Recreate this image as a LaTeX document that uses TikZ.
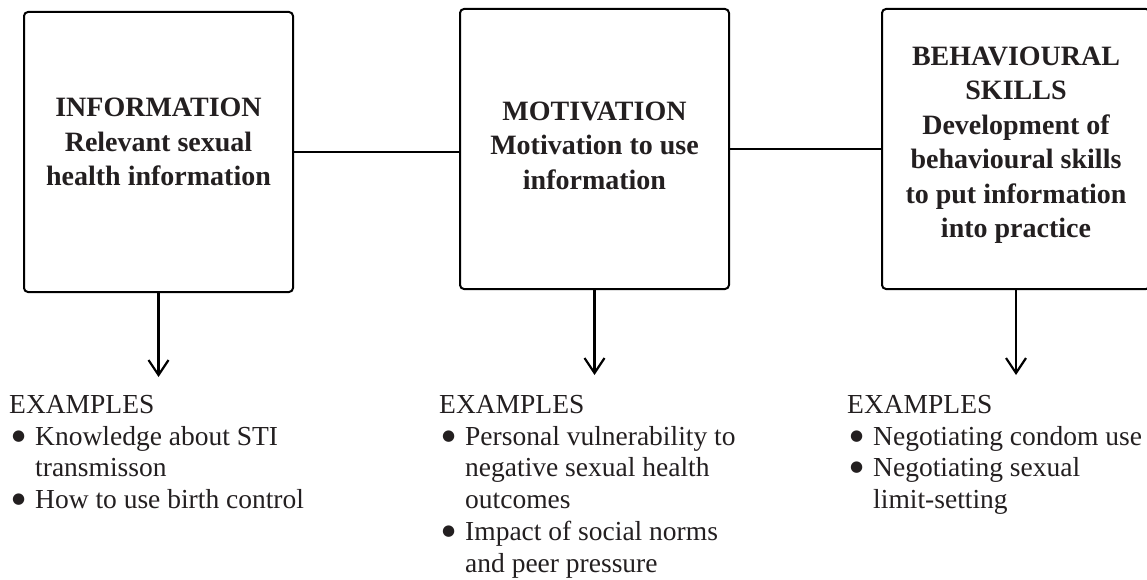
\documentclass[tikz,border=0pt]{standalone}
\usepackage{fontspec}
\setmainfont{Liberation Serif}
\newfontfamily\bulfont{DejaVu Sans}
\usetikzlibrary{arrows.meta}
\definecolor{ink}{RGB}{35,31,32}
\newcommand\exbul{\makebox[26pt][l]{\hspace{3pt}\raisebox{5pt}{\bulfont\fontsize{15}{15}\selectfont ●}}}
\newcommand\exind{\hspace*{26pt}}
\begin{document}
\begin{tikzpicture}[x=1pt,y=-1pt,
  box/.style={draw=black, line width=2pt, rounded corners=4pt, inner sep=0pt},
  boxtext/.style={font=\fontsize{28}{34.5}\selectfont\bfseries, text=ink, align=center, inner sep=0pt, anchor=north},
  extext/.style={font=\fontsize{27.5}{31.8}\selectfont, text=ink, align=left, inner sep=0pt, anchor=north west},
  link/.style={line width=2.2pt},
  arr/.style={line width=2.2pt, -{Straight Barb[length=15pt,width=20pt]}}]
\useasboundingbox (0,0) rectangle (1147,580);

\node[box, minimum width=269pt, minimum height=280pt] (b1) at (158.5,152) {};
\node[box, minimum width=269pt, minimum height=280pt] (b2) at (594.5,149) {};
\node[box, minimum width=268pt, minimum height=280pt] (b3) at (1016,149) {};

\node[boxtext] (t1) at (158.5,98) {INFORMATION\\Relevant sexual\\health information};
\node[boxtext] (t2) at (594.5,101.5) {MOTIVATION\\Motivation to use\\information};
\node[boxtext] (t3) at (1016,46.5) {BEHAVIOURAL\\SKILLS\\Development of\\behavioural skills\\to put information\\into practice};

\draw[link] (b1.east) -- (b1.east -| b2.west);
\draw[link] (b2.east) -- (b3.west);

\coordinate (e1) at (158.5,377);
\coordinate (e2) at (594.5,375);
\coordinate (e3) at (1016,375);
\draw[arr] (b1.south) -- (e1);
\draw[arr] (b2.south) -- (e2);
\draw[arr] (b3.south) -- (e3);

\node[extext] (x1) at (9,394.8) {EXAMPLES\\\exbul Knowledge about STI\\\exind transmisson\\\exbul How to use birth control};
\node[extext] (x2) at (439,394.8) {EXAMPLES\\\exbul Personal vulnerability to\\\exind negative sexual health\\\exind outcomes\\\exbul Impact of social norms\\\exind and peer pressure};
\node[extext] (x3) at (847,394.8) {EXAMPLES\\\exbul Negotiating condom use\\\exbul Negotiating sexual\\\exind limit-setting};
\end{tikzpicture}
\end{document}
